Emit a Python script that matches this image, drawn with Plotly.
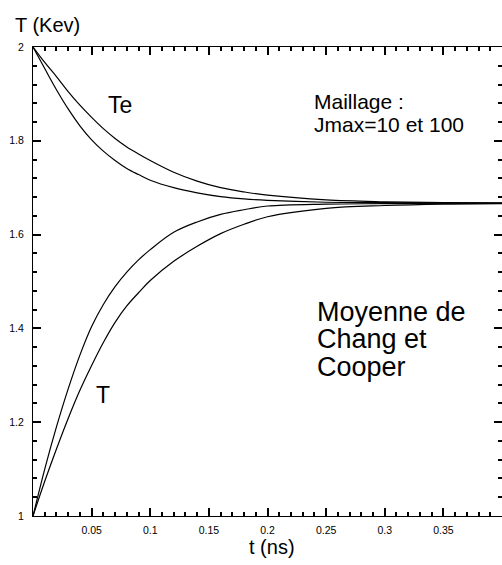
import plotly.graph_objects as go

# time (ns)
t_ns = [0, 0.01, 0.02, 0.03, 0.04, 0.05, 0.06, 0.07, 0.08, 0.09, 0.10,
        0.12, 0.14, 0.16, 0.18, 0.20, 0.25, 0.30, 0.35, 0.40]
# electron temperature Te (keV), two meshes
te_slow = [2.000, 1.967, 1.937, 1.905, 1.876, 1.850, 1.826, 1.805, 1.787, 1.772, 1.758,
           1.733, 1.714, 1.700, 1.691, 1.684, 1.674, 1.670, 1.668, 1.667]
te_fast = [2.000, 1.954, 1.909, 1.868, 1.832, 1.802, 1.778, 1.758, 1.741, 1.728, 1.716,
           1.700, 1.689, 1.681, 1.676, 1.673, 1.669, 1.668, 1.667, 1.667]
# ion temperature T (keV), two meshes
ti_fast = [1.000, 1.100, 1.190, 1.271, 1.343, 1.404, 1.451, 1.489, 1.520, 1.546, 1.568,
           1.605, 1.627, 1.643, 1.653, 1.661, 1.665, 1.666, 1.667, 1.667]
ti_slow = [1.000, 1.074, 1.143, 1.208, 1.268, 1.321, 1.370, 1.413, 1.448, 1.476, 1.502,
           1.543, 1.575, 1.602, 1.622, 1.638, 1.656, 1.662, 1.665, 1.666]

x_tickvals = [0.05, 0.1, 0.15, 0.2, 0.25, 0.3, 0.35]
x_ticktext = ["0.05", "0.1", "0.15", "0.2", "0.25", "0.3", "0.35"]
y_tickvals = [1, 1.2, 1.4, 1.6, 1.8, 2]
y_ticktext = ["1", "1.2", "1.4", "1.6", "1.8", "2"]

FONT = "Liberation Sans, Arial, Helvetica, sans-serif"
W, H = 502, 565
L, R, T, B = 33, 0, 47, 49
PW, PH = W - L - R, H - T - B
TW = 1.5

fig = go.Figure()
line = dict(color="black", width=1.2)
for ys in [te_slow, te_fast, ti_fast, ti_slow]:
    fig.add_trace(go.Scatter(x=t_ns, y=ys, mode="lines", line=dict(line, shape="spline"),
                             showlegend=False, hoverinfo="skip"))

fig.update_layout(
    width=W, height=H, margin=dict(l=L, r=R, t=T, b=B),
    paper_bgcolor="white", plot_bgcolor="white",
    font=dict(family=FONT, color="black"),
    xaxis=dict(range=[0, 0.4], showline=True, linecolor="black", linewidth=1.3, mirror="ticks",
               ticks="inside", ticklen=8, tickcolor="black", tickwidth=TW,
               tickmode="array", tickvals=x_tickvals, ticktext=x_ticktext,
               ticklabelstandoff=4,
               tickfont=dict(size=10.5, family=FONT), showgrid=False, zeroline=False,
               minor=dict(ticks="inside", ticklen=4, tickcolor="black", tickwidth=TW,
                          tick0=0, dtick=0.01, showgrid=False)),
    yaxis=dict(range=[1, 2], showline=True, linecolor="black", linewidth=1.3, mirror="ticks",
               ticks="inside", ticklen=8, tickcolor="black", tickwidth=TW,
               tickmode="array", tickvals=y_tickvals, ticktext=y_ticktext,
               ticklabelstandoff=6,
               tickfont=dict(size=10.5, family=FONT), showgrid=False, zeroline=False,
               minor=dict(ticks="inside", ticklen=4, tickcolor="black", tickwidth=TW,
                          tick0=1, dtick=0.04, showgrid=False)),
)

def px2paper(px, py):
    return (px - L) / PW, (H - B - py) / PH

def note(text, px, py, size, xanchor="left"):
    xp, yp = px2paper(px, py)
    fig.add_annotation(text=text, x=xp, y=yp, xref="paper", yref="paper",
                       xanchor=xanchor, yanchor="middle", showarrow=False,
                       font=dict(size=size, family=FONT, color="black"))

note("T (Kev)", 13, 25, 20)
note("t (ns)", 272, 547, 20, xanchor="center")
note("Te", 106, 105, 23)
note("T", 94, 395, 23)
note("Maillage :", 312, 102, 21)
note("Jmax=10 et 100", 312, 125, 21)
note("Moyenne de", 315, 312, 27)
note("Chang et", 315, 339, 27)
note("Cooper", 315, 367, 27)

fig.write_html("out.html", config={"displayModeBar": False},
               post_script="document.body.style.margin='0';")
